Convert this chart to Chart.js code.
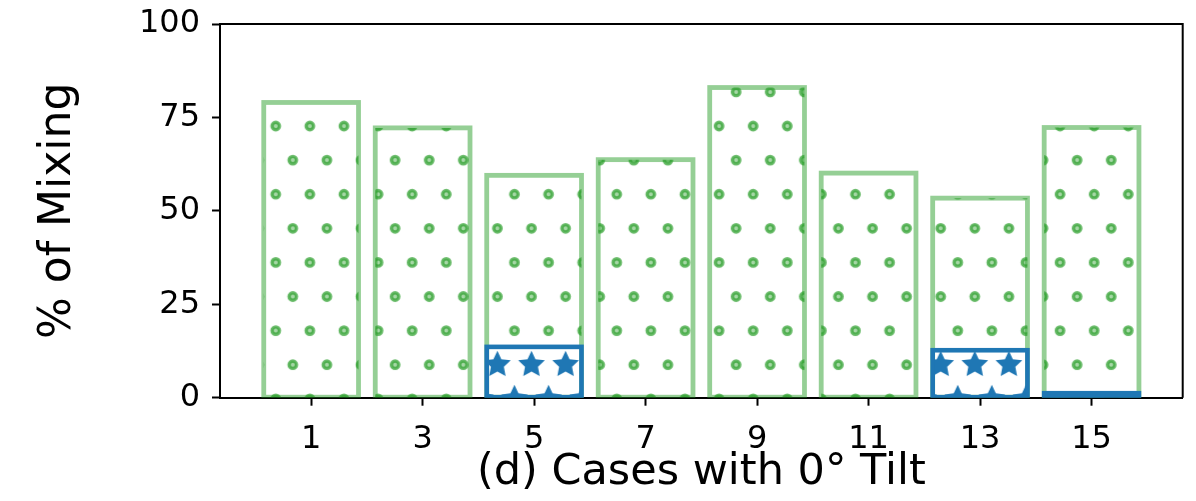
<!DOCTYPE html>
<html>
<head>
<meta charset="utf-8">
<script src="https://cdn.jsdelivr.net/npm/chart.js@4.4.0/dist/chart.umd.min.js"></script>
<style>
  html, body { margin: 0; padding: 0; background: #fff; }
  #wrap { width: 1196px; height: 501px; position: relative; }
</style>
</head>
<body>
<div id="wrap"><canvas id="mixChart"></canvas></div>
<script>
const cases = ['1', '3', '5', '7', '9', '11', '13', '15'];
const mixingTotal = [79.0, 72.2, 59.5, 63.7, 83.0, 60.1, 53.4, 72.3];
const mixingStar = [null, null, 13.6, null, null, null, 12.7, 1.2];
const yTicks = [0, 25, 50, 75, 100];

const FONT = 'DejaVu Sans';
const GREEN_EDGE = 'rgba(44, 160, 44, 0.5)';
const BLUE = '#1f77b4';

// hatch lattice (canvas pixels), same grid for dots and stars
const HATCH_STEP = 34.1;
const HATCH_X = 275.7;
const HATCH_Y = 126;

function makeHatch(drawMark) {
    const cols = 10, rows = 20;
    const tile = document.createElement('canvas');
    tile.width = Math.round(cols * HATCH_STEP);
    tile.height = Math.round(rows * HATCH_STEP);
    const g = tile.getContext('2d');
    for (let r = -1; r <= rows; r++) {
        for (let c = -1; c <= cols; c++) {
            const x = c * HATCH_STEP + (r % 2 ? HATCH_STEP / 2 : 0);
            drawMark(g, x, r * HATCH_STEP);
        }
    }
    const pattern = g.createPattern(tile, 'repeat');
    pattern.setTransform(new DOMMatrix([1, 0, 0, 1, HATCH_X, HATCH_Y]));
    return pattern;
}

function dot(g, x, y) {
    g.beginPath();
    g.arc(x, y, 3.7, 0, Math.PI * 2);
    g.fillStyle = 'rgba(44, 160, 44, 0.42)';
    g.fill();
    g.lineWidth = 3.4;
    g.strokeStyle = 'rgba(44, 160, 44, 0.72)';
    g.stroke();
}

function star(g, x, y) {
    const R = 14, r = 6.8;
    g.beginPath();
    for (let i = 0; i < 10; i++) {
        const a = -Math.PI / 2 + i * Math.PI / 5;
        const rad = i % 2 ? r : R;
        g.lineTo(x + rad * Math.cos(a), y + rad * Math.sin(a));
    }
    g.closePath();
    g.fillStyle = BLUE;
    g.fill();
}

// bar edges drawn centred on the bar outline, like a stroked patch
const barOutline = {
    id: 'barOutline',
    afterDatasetDraw(chart, args) {
        const ds = chart.data.datasets[args.index];
        const { ctx, chartArea: a } = chart;
        ctx.save();
        ctx.beginPath();
        ctx.rect(a.left, a.top, a.width, a.height);
        ctx.clip();
        ctx.strokeStyle = ds.outlineColor;
        ctx.lineWidth = ds.outlineWidth;
        args.meta.data.forEach((bar, i) => {
            if (ds.data[i].y == null) return;
            const { x, y, base, width } = bar.getProps(['x', 'y', 'base', 'width'], true);
            ctx.strokeRect(x - width / 2, Math.min(y, base), width, Math.abs(base - y));
        });
        ctx.restore();
    }
};

// top and right spines
const frame = {
    id: 'frame',
    afterDraw(chart) {
        const { ctx, chartArea: a } = chart;
        ctx.save();
        ctx.strokeStyle = '#000';
        ctx.lineWidth = 2;
        ctx.beginPath();
        ctx.moveTo(a.left, a.top);
        ctx.lineTo(a.right, a.top);
        ctx.lineTo(a.right, a.bottom);
        ctx.stroke();
        ctx.restore();
    }
};

const tickGrid = { drawOnChartArea: false, drawTicks: true, tickLength: 8, tickWidth: 2, tickColor: '#000', offset: false };
const axisBorder = { display: true, color: '#000', width: 2 };

new Chart(document.getElementById('mixChart'), {
    type: 'bar',
    data: {
        datasets: [
            {
                data: mixingTotal.map((v, i) => ({ x: i, y: v })),
                backgroundColor: makeHatch(dot),
                borderWidth: 0,
                outlineColor: GREEN_EDGE,
                outlineWidth: 4.8,
                order: 2
            },
            {
                data: mixingStar.map((v, i) => ({ x: i, y: v })),
                backgroundColor: makeHatch(star),
                borderWidth: 0,
                outlineColor: BLUE,
                outlineWidth: 4.6,
                order: 1
            }
        ]
    },
    options: {
        responsive: true,
        maintainAspectRatio: false,
        devicePixelRatio: 1,
        animation: false,
        layout: { padding: { top: 24, right: 13.3, left: 0, bottom: 0 } },
        categoryPercentage: 1,
        barPercentage: 0.85,
        plugins: { legend: { display: false }, tooltip: { enabled: false } },
        scales: {
            x: {
                type: 'linear',
                min: -0.8175,
                max: 7.8175,
                offset: false,
                stacked: true,
                z: 1,
                afterBuildTicks: axis => { axis.ticks = cases.map((_, i) => ({ value: i })); },
                afterFit: axis => {
                    axis.height = 103.3;
                    axis.paddingLeft = 0;
                    axis.paddingRight = 0;
                },
                grid: tickGrid,
                border: axisBorder,
                ticks: {
                    autoSkip: false,
                    maxRotation: 0,
                    padding: 15,
                    color: '#000',
                    font: { family: FONT, size: 32 },
                    callback: v => cases[v] ?? ''
                },
                title: {
                    display: true,
                    text: '(d) Cases with 0° Tilt',
                    color: '#000',
                    font: { family: FONT, size: 43 },
                    padding: { top: 0, bottom: 2 }
                }
            },
            y: {
                min: 0,
                max: 100,
                z: 1,
                afterBuildTicks: axis => { axis.ticks = yTicks.map(v => ({ value: v })); },
                afterFit: axis => {
                    axis.width = 220;
                    axis.paddingTop = 0;
                    axis.paddingBottom = 0;
                },
                grid: tickGrid,
                border: axisBorder,
                ticks: {
                    padding: 12,
                    color: '#000',
                    font: { family: FONT, size: 32 }
                },
                title: {
                    display: true,
                    text: '% of Mixing',
                    color: '#000',
                    font: { family: FONT, size: 44 },
                    padding: { top: 32, bottom: 0 }
                }
            }
        }
    },
    plugins: [barOutline, frame]
});
</script>
</body>
</html>
